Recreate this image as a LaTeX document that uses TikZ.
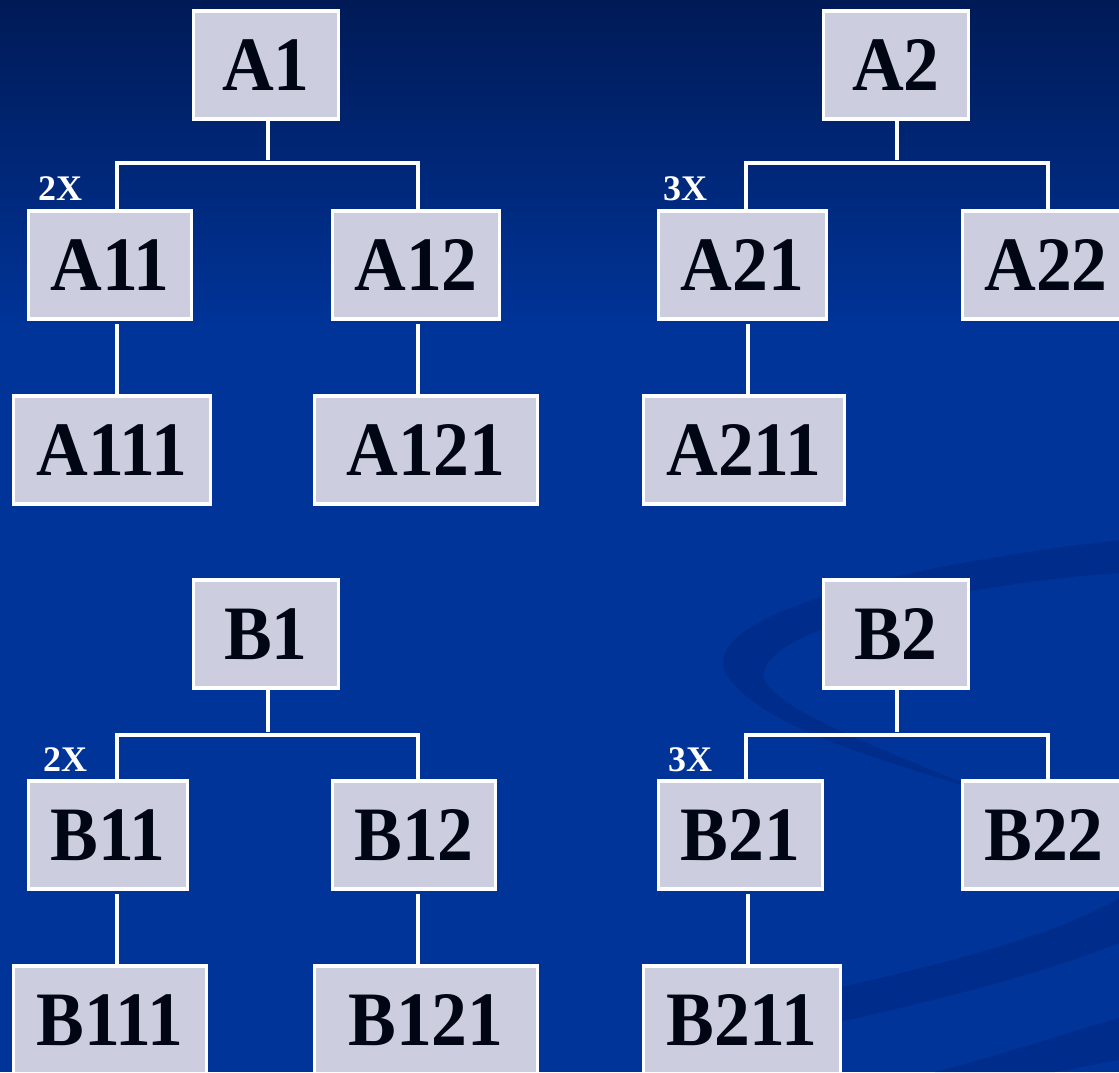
\documentclass[tikz,border=0pt]{standalone}
\usepackage{fontspec}
\newfontfamily\boxfont[FakeStretch=0.93]{Liberation Serif}
\newfontfamily\labfont{Liberation Serif}
\definecolor{bgtop}{RGB}{0,26,86}
\definecolor{bgmain}{RGB}{0,52,153}
\definecolor{swirl}{RGB}{0,40,130}
\definecolor{boxfill}{RGB}{204,206,223}
\definecolor{boxtext}{RGB}{0,6,20}
\tikzset{
  orgbox/.style={draw=white, line width=3.6pt, fill=boxfill, text=boxtext,
    inner sep=0pt, text depth=0pt, minimum height=108.5pt,
    font=\boxfont\bfseries\fontsize{77}{77}\selectfont},
  conn/.style={draw=white, line width=3.6pt},
  mult/.style={text=white, inner sep=0pt, font=\labfont\bfseries\fontsize{36}{36}\selectfont}
}
\begin{document}
\begin{tikzpicture}[x=1pt,y=-1pt]
\useasboundingbox (0,0) rectangle (1119,1072);
% background
\fill[bgmain] (0,0) rectangle (1119,1072);
\shade[top color=bgtop, bottom color=bgmain] (0,0) rectangle (1119,330);
% swirls
\fill[swirl, opacity=0.55] (1119,540) .. controls (900,565) and (700,615) .. (725,672)
  .. controls (755,725) and (880,760) .. (985,792)
  .. controls (880,748) and (775,710) .. (764,678)
  .. controls (756,630) and (950,585) .. (1119,573) -- cycle;
\fill[swirl, opacity=0.55] (780,1000) .. controls (900,975) and (1050,940) .. (1119,898)
  -- (1119,943) .. controls (1040,975) and (920,1005) .. (780,1035) -- cycle;
\fill[swirl, opacity=0.55] (935,1072) .. controls (1000,1055) and (1060,1035) .. (1119,1018)
  -- (1119,1060) .. controls (1090,1065) and (1070,1070) .. (1055,1072) -- cycle;

% ---------- A1 tree ----------
\node[orgbox, minimum width=145pt] (A1) at (266,65) {A1};
\node[orgbox, minimum width=163pt] (A11) at (110,265) {A11};
\node[orgbox, minimum width=167pt] (A12) at (416,265) {A12};
\node[orgbox, minimum width=197pt] (A111) at (112,450) {A111};
\node[orgbox, minimum width=223pt] (A121) at (426,450) {A121};
\coordinate (A1L) at (117,163);
\coordinate (A1R) at (418,163);
\draw[conn, shorten >=3pt] (A1.south -| 268,0) -- (268,163);
\draw[conn] (A11.north -| A1L) -- (A1L) -- (A1R) -- (A1R |- A12.north);
\draw[conn, shorten >=3pt] (A111.north -| A1L) -- (A11.south -| A1L);
\draw[conn, shorten >=3pt] (A121.north -| A1R) -- (A12.south -| A1R);
\node[mult] (m2a) at (60,189) {2X};

% ---------- A2 tree ----------
\node[orgbox, minimum width=145pt] (A2) at (896,65) {A2};
\node[orgbox, minimum width=168pt] (A21) at (742.5,265) {A21};
\node[orgbox, minimum width=167pt] (A22) at (1046,265) {A22};
\node[orgbox, minimum width=201pt] (A211) at (744,450) {A211};
\coordinate (A2L) at (746,163);
\coordinate (A2R) at (1048,163);
\draw[conn, shorten >=3pt] (A2.south -| 897,0) -- (897,163);
\draw[conn] (A21.north -| A2L) -- (A2L) -- (A2R) -- (A2R |- A22.north);
\draw[conn, shorten >=3pt] (A211.north -| 748,0) -- (A21.south -| 748,0);
\node[mult] (m3a) at (685,189) {3X};

% ---------- B1 tree ----------
\node[orgbox, minimum width=145pt] (B1) at (266,634) {B1};
\node[orgbox, minimum width=159pt] (B11) at (108,835) {B11};
\node[orgbox, minimum width=163pt] (B12) at (414,835) {B12};
\node[orgbox, minimum width=193pt] (B111) at (110,1020) {B111};
\node[orgbox, minimum width=223pt] (B121) at (426,1020) {B121};
\coordinate (B1L) at (117,735);
\coordinate (B1R) at (418,735);
\draw[conn, shorten >=3pt] (B1.south -| 268,0) -- (268,735);
\draw[conn] (B11.north -| B1L) -- (B1L) -- (B1R) -- (B1R |- B12.north);
\draw[conn, shorten >=3pt] (B111.north -| B1L) -- (B11.south -| B1L);
\draw[conn, shorten >=3pt] (B121.north -| B1R) -- (B12.south -| B1R);
\node[mult] (m2b) at (65,760) {2X};

% ---------- B2 tree ----------
\node[orgbox, minimum width=145pt] (B2) at (896,634) {B2};
\node[orgbox, minimum width=164pt] (B21) at (740.5,835) {B21};
\node[orgbox, minimum width=163pt] (B22) at (1044,835) {B22};
\node[orgbox, minimum width=197pt] (B211) at (742,1020) {B211};
\coordinate (B2L) at (746,735);
\coordinate (B2R) at (1048,735);
\draw[conn, shorten >=3pt] (B2.south -| 897,0) -- (897,735);
\draw[conn] (B21.north -| B2L) -- (B2L) -- (B2R) -- (B2R |- B22.north);
\draw[conn, shorten >=3pt] (B211.north -| 748,0) -- (B21.south -| 748,0);
\node[mult] (m3b) at (690,760) {3X};
\end{tikzpicture}
\end{document}
